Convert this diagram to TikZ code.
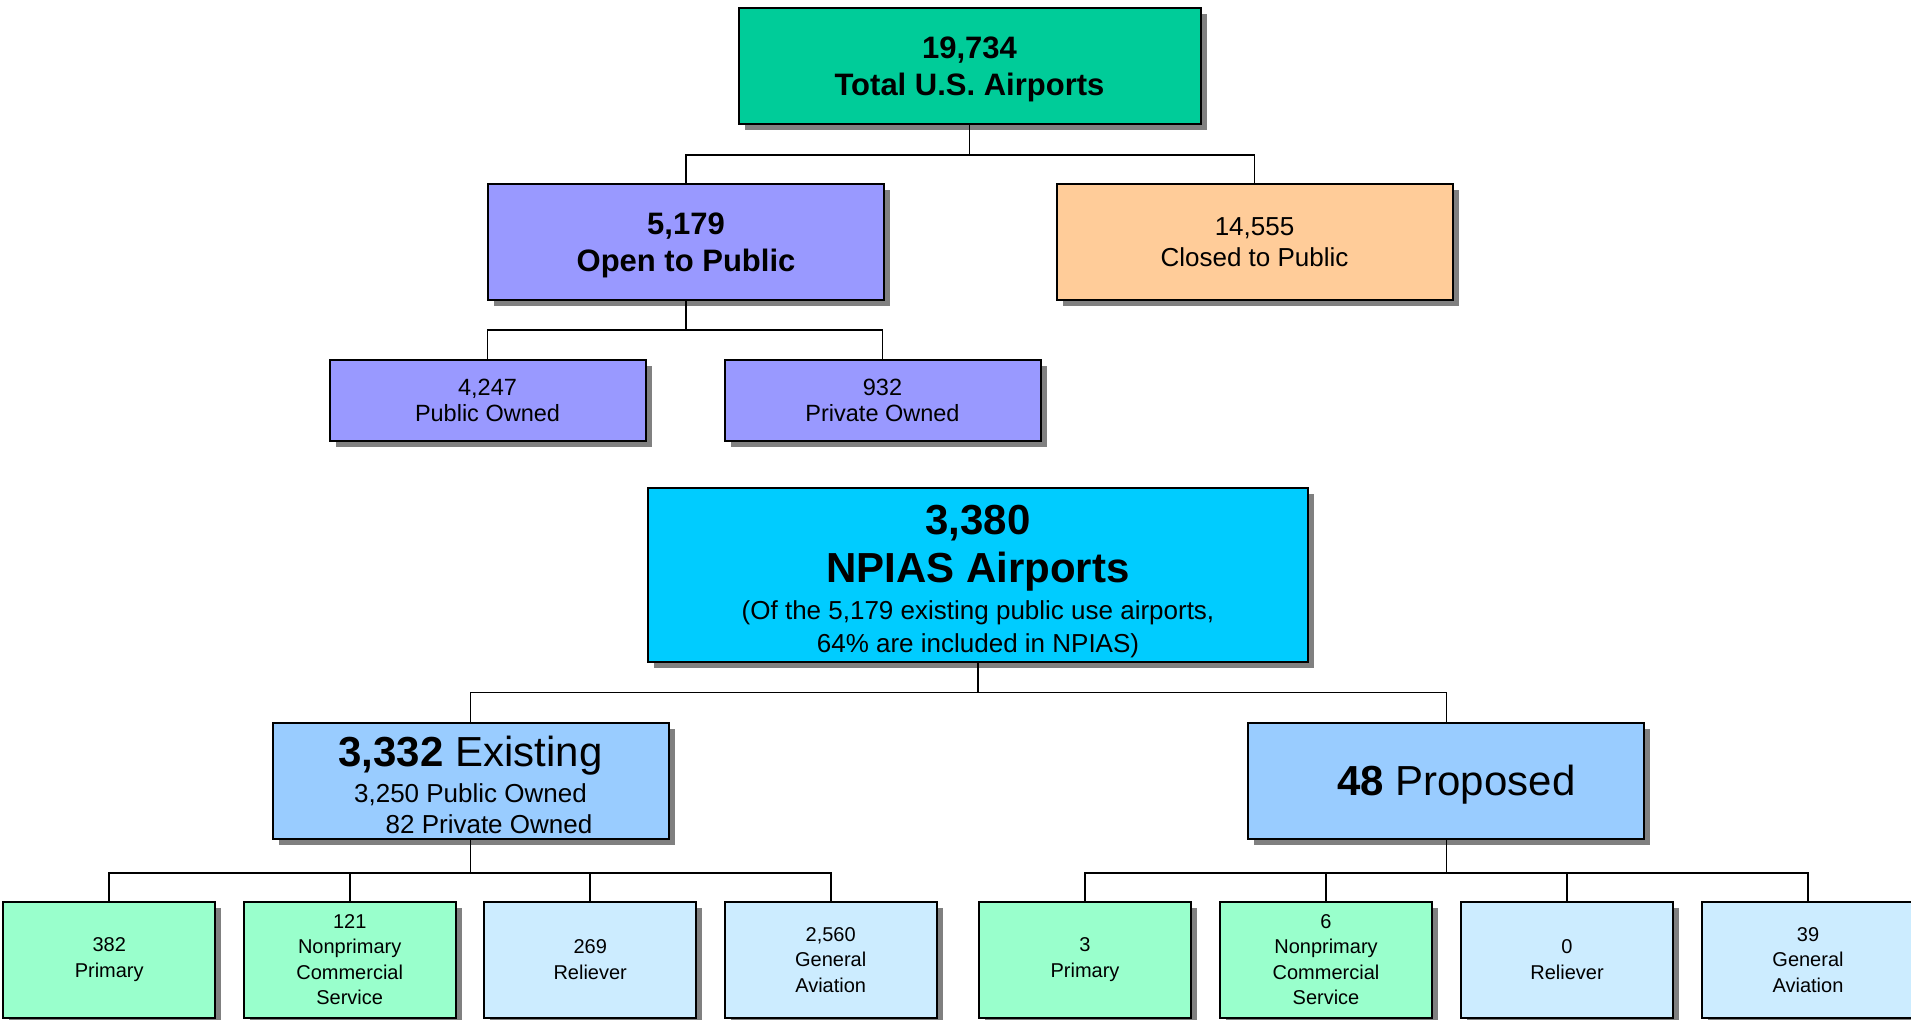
\documentclass[tikz,border=0pt]{standalone}
\usepackage{fontspec}
\setmainfont{Liberation Sans}
\usepackage{xcolor}
\usetikzlibrary{shadows}
\definecolor{tgreen}{RGB}{0, 204, 153}
\definecolor{lpurple}{RGB}{153, 153, 255}
\definecolor{lorange}{RGB}{255, 204, 153}
\definecolor{dcyan}{RGB}{0, 204, 255}
\definecolor{lblue}{RGB}{153, 204, 255}
\definecolor{mgreen}{RGB}{153, 255, 204}
\definecolor{pblue}{RGB}{204, 236, 255}
\definecolor{sgray}{RGB}{128, 128, 128}
\def\bigFont{\fontsize{15.5}{18.5}\selectfont\bfseries}
\def\midFont{\fontsize{13}{15.5}\selectfont}
\def\hugeFont{\fontsize{21}{21}\selectfont}
\tikzset{
  box/.style={draw, line width=1pt, fill=#1, inner sep=0pt, align=center,
    drop shadow={shadow xshift=3pt, shadow yshift=-3pt, fill=sgray, opacity=1}},
  wide/.style={minimum width=198pt, minimum height=58pt},
  owned/.style={minimum width=158pt, minimum height=40.5pt, font=\fontsize{11.75}{13}\selectfont},
  leaf/.style={minimum width=106pt, minimum height=58pt, font=\fontsize{10}{12.75}\selectfont},
  link/.style={line width=0.8pt}
}

\begin{document}
\begin{tikzpicture}[x=0.5pt, y=-0.5pt]
  \useasboundingbox (0, 0) rectangle (1911, 1020);
  \node[box=tgreen, minimum width=231pt, minimum height=58pt, font=\bigFont, text depth=0pt] (total) at (969.5, 66){19,734\\Total U.S. Airports};
  \node[box=lpurple, wide, font=\bigFont, text depth=0pt] (open) at (686, 242){5,179\\Open to Public};
  \node[box=lorange, wide, font=\midFont] (closed) at (1254.5, 242){14,555\\Closed to Public};
  \node[box=lpurple, owned] (pubown) at (487.5, 400.5){4,247\\Public Owned};
  \node[box=lpurple, owned] (privown) at (882.5, 400.5){932\\Private Owned};
  \node[box=dcyan, minimum width=329.7pt, minimum height=86.7pt, font=\fontsize{13}{15.65}\selectfont] (npias) at (978, 575){{\hugeFont\bfseries\rule{0pt}{21pt}3,380}\\[4.85pt]{\hugeFont\bfseries NPIAS Airports}\\[2.5pt](Of the 5,179 existing public use airports,\\[1pt]64\% are included in NPIAS)};
  \node[box=lblue, wide, font=\midFont] (exist) at (470.5, 780.7){{\hugeFont\rule{0pt}{19.5pt}\textbf{3,332} Existing}\\[2.5pt]3,250 Public Owned\\\hspace*{18.5pt}82 Private Owned};
  \node[box=lblue, wide, font=\hugeFont, text depth=0pt] (prop) at (1446.3, 780.7){\hspace*{10pt}\textbf{48} Proposed};
  \node[box=mgreen, leaf] (eprim) at (109.2, 959.7){382\\Primary};
  \node[box=mgreen, leaf] (enonprim) at (349.7, 959.7){121\\Nonprimary\\Commercial\\Service};
  \node[box=pblue, leaf] (ereliev) at (590.2, 959.7){269\\Reliever};
  \node[box=pblue, leaf] (egenav) at (830.7, 959.7){2,560\\General\\Aviation};
  \node[box=mgreen, leaf] (pprim) at (1085, 959.7){3\\Primary};
  \node[box=mgreen, leaf] (pnonprim) at (1326, 959.7){6\\Nonprimary\\Commercial\\Service};
  \node[box=pblue, leaf] (preliev) at (1567, 959.7){0\\Reliever};
  \node[box=pblue, leaf] (pgenav) at (1808, 959.7){39\\General\\Aviation};
  \draw[link] (total.south) -- ++(0, 30) -| (open.north);
  \draw[link] (total.south) -- ++(0, 30) -| (closed.north);
  \draw[link] (open.south) -- ++(0, 29) -| (pubown.north);
  \draw[link] (open.south) -- ++(0, 29) -| (privown.north);
  \draw[link] (npias.south) -- ++(0, 30) -| (exist.north);
  \draw[link] (npias.south) -- ++(0, 30) -| (prop.north);
  \draw[link] (exist.south) -- ++(0, 33) -| (eprim.north);
  \draw[link] (exist.south) -- ++(0, 33) -| (enonprim.north);
  \draw[link] (exist.south) -- ++(0, 33) -| (ereliev.north);
  \draw[link] (exist.south) -- ++(0, 33) -| (egenav.north);
  \draw[link] (prop.south) -- ++(0, 33) -| (pprim.north);
  \draw[link] (prop.south) -- ++(0, 33) -| (pnonprim.north);
  \draw[link] (prop.south) -- ++(0, 33) -| (preliev.north);
  \draw[link] (prop.south) -- ++(0, 33) -| (pgenav.north);
\end{tikzpicture}
\end{document}
